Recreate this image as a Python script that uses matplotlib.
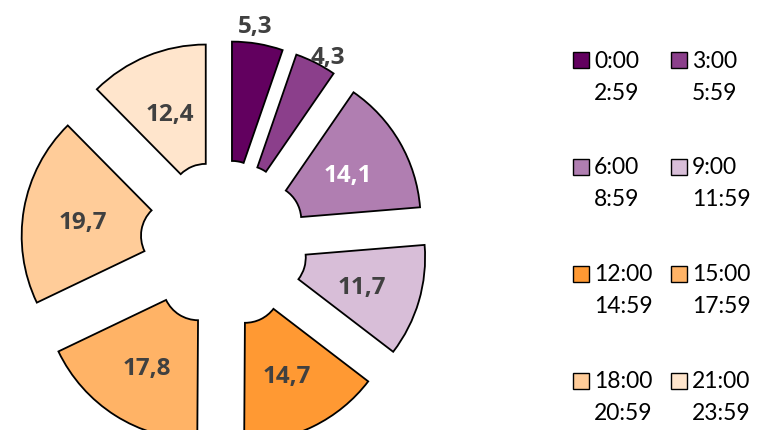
import matplotlib.pyplot as plt
import numpy as np
from matplotlib.patches import Rectangle

# Share of events by 3-hour time slot
slot_starts = ['0:00', '3:00', '6:00', '9:00', '12:00', '15:00', '18:00', '21:00']
slot_ends = ['2:59', '5:59', '8:59', '11:59', '14:59', '17:59', '20:59', '23:59']
shares = [5.3, 4.3, 14.1, 11.7, 14.7, 17.8, 19.7, 12.4]
colors = ['#62005f', '#8b3f8b', '#b07eb1', '#d8bed8',
          '#ff9933', '#ffb366', '#ffcc99', '#ffe5cc']
label_colors = ['#404040', '#404040', '#ffffff', '#404040',
                '#404040', '#404040', '#404040', '#404040']

plt.rcParams['font.family'] = ['Lato', 'DejaVu Sans']

fig = plt.figure(figsize=(7.75, 4.31), dpi=100)
ax = fig.add_axes([0, 0, 1, 1])

wedges, _ = ax.pie(shares, colors=colors, startangle=90, counterclock=False,
                   explode=[0.31] * len(shares), radius=1.0,
                   wedgeprops=dict(width=0.77, edgecolor='black', linewidth=1.3))

# labels: mid of ring, the two small slices get theirs outside
outside = {0: (1.13, 2.0), 1: (1.09, -2.4)}  # distance, angle tweak (deg)
for i, w in enumerate(wedges):
    mid = (w.theta1 + w.theta2) / 2
    dist = 0.615
    if i in outside:
        dist, tweak = outside[i]
        mid += tweak
    mid = np.deg2rad(mid)
    cx, cy = w.center
    ax.text(cx + dist * np.cos(mid), cy + dist * np.sin(mid),
            f'{shares[i]:.1f}'.replace('.', ','),
            ha='center', va='center_baseline', fontsize=17.5, fontweight='bold',
            family=['Open Sans', 'DejaVu Sans'], color=label_colors[i])

# 1 data unit = 155 px, centre at (224, 245) px
ax.set_aspect('auto')
ax.set_xlim(-224 / 155, (775 - 224) / 155)
ax.set_ylim(-(431 - 245) / 155, 245 / 155)
ax.axis('off')

# legend, two columns
W, H = 775, 431
for i in range(len(shares)):
    row, col = i // 2, i % 2
    x0 = 573 + col * 98
    y0 = 61 + row * 107
    fig.patches.append(Rectangle((x0 / W, 1 - (y0 + 8) / H), 16 / W, 16 / H,
                                 transform=fig.transFigure, facecolor=colors[i],
                                 edgecolor='black', linewidth=1.0))
    fig.text((x0 + 21) / W, 1 - y0 / H, slot_starts[i], ha='left', va='center',
             fontsize=16.5, color='black')
    fig.text((x0 + 21) / W, 1 - (y0 + 32) / H, slot_ends[i], ha='left', va='center',
             fontsize=16.5, color='black')

fig.savefig('out.png', dpi=100)
